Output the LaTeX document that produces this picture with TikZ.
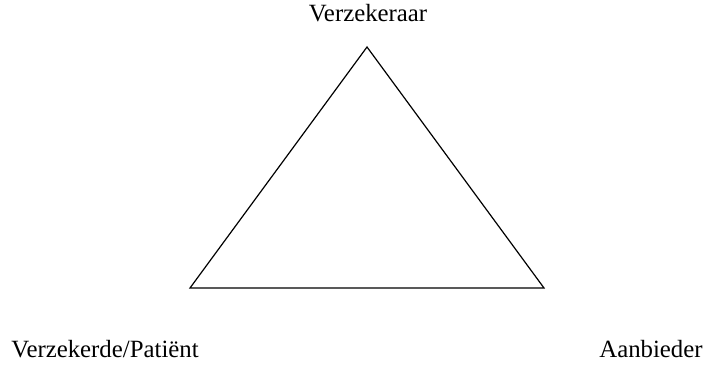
\documentclass[tikz,border=0pt]{standalone}
\usepackage{fontspec}
\setmainfont{Liberation Serif}
\usepackage{tikz}
\usetikzlibrary{positioning}

\begin{document}
\begin{tikzpicture}[
    x=0.5pt, y=-0.5pt,
    party/.style={anchor=base, inner sep=0pt, font=\fontsize{12.4}{15}\selectfont},
    side/.style={draw=black, line width=0.6pt, line join=miter},
]

% Frame
\useasboundingbox (0,0) rectangle (704,368);

% Corners of the triangle
\coordinate (top) at (367,47);
\coordinate (left) at (190,288);
\coordinate (right) at (544,288);

% Triangle
\draw[side] (top) -- (right) -- (left) -- cycle;

% Labels
\node[party] (insurer) at (368,22) {Verzekeraar};
\node[party] (patient) at (105,357) {Verzekerde/Patiënt};
\node[party] (provider) at (651,357) {Aanbieder};

\end{tikzpicture}
\end{document}
